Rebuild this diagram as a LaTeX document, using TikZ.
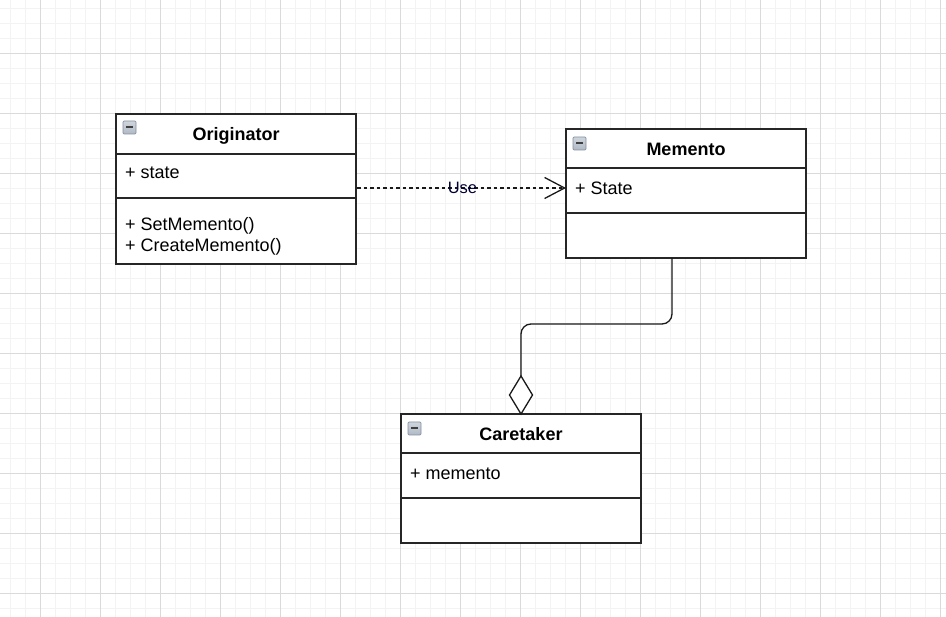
\documentclass[tikz,border=0pt]{standalone}
\usepackage{fontspec}
\setmainfont{Liberation Sans}
\usetikzlibrary{arrows.meta}
\definecolor{gridmajor}{HTML}{DADADA}
\definecolor{gridminor}{HTML}{F3F3F3}
\definecolor{iconfill}{HTML}{B0B9C5}
\definecolor{iconedge}{HTML}{8390A0}
\begin{document}
\begin{tikzpicture}[x=1pt,y=-1pt,
  umlbox/.style={draw=black!85,line width=1.6pt,fill=white,outer sep=0pt,inner sep=0pt,anchor=north west,minimum width=240pt},
  sepline/.style={draw=black!85,line width=1.6pt},
  titletext/.style={font=\fontsize{18}{20}\selectfont\bfseries,anchor=base,inner sep=0pt},
  attrtext/.style={font=\fontsize{18}{20}\selectfont,anchor=base west,inner sep=0pt},
  conn/.style={draw=black!90,line width=1.3pt}]
\useasboundingbox (0,0) rectangle (946,617);
\fill[white] (0,0) rectangle (946,617);
% grid
\foreach \x in {10,25,...,946} \draw[gridminor,line width=0.9pt] (\x,0) -- (\x,617);
\foreach \y in {8,23,...,617} \draw[gridminor,line width=0.9pt] (0,\y) -- (946,\y);
\foreach \x in {40,100,...,946} \draw[gridmajor,line width=0.9pt] (\x,0) -- (\x,617);
\foreach \y in {53,113,...,617} \draw[gridmajor,line width=0.9pt] (0,\y) -- (946,\y);

% collapse icon
\newcommand{\collapseicon}[2]{%
  \shade[top color=iconfill!60,bottom color=iconfill!100!black,draw=iconedge,line width=0.7pt,rounded corners=1.2pt] (#1,#2) rectangle ++(13,13);
  \draw[black!75,line width=2pt] (#1+3,#2+6.5) -- ++(7,0);}

% Originator
\node[umlbox,minimum height=150pt] (orig) at (116,114) {};
\draw[sepline] (116,154) -- (356,154);
\draw[sepline] (116,198) -- (356,198);
\collapseicon{123}{121}
\node[titletext] (origt) at (236,141) {Originator};
\node[attrtext] (origa) at (125,179) {+ state};
\node[attrtext] (origm1) at (125,231) {+ SetMemento()};
\node[attrtext] (origm2) at (125,251.5) {+ CreateMemento()};

% Memento
\node[umlbox,minimum height=129pt] (mem) at (566,129) {};
\draw[sepline] (566,168) -- (806,168);
\draw[sepline] (566,213) -- (806,213);
\collapseicon{573}{137}
\node[titletext] (memt) at (686,155.5) {Memento};
\node[attrtext] (mema) at (575,195) {+ State};

% Caretaker
\node[umlbox,minimum height=129pt] (care) at (401,414) {};
\draw[sepline] (401,453) -- (641,453);
\draw[sepline] (401,498) -- (641,498);
\collapseicon{408}{422}
\node[titletext] (caret) at (521,440.5) {Caretaker};
\node[attrtext] (carea) at (410,479.5) {+ memento};

% Use dependency
\coordinate (usestart) at (357,188);
\coordinate (useend) at (566,188);
\draw[conn,line width=1.1pt,dash pattern=on 3.5pt off 3pt,-{Straight Barb[length=20pt,width=21pt,line width=1.3pt]}] (usestart) -- (useend);
\node[font=\fontsize{16.5}{18}\selectfont,text=black!80!blue,inner sep=0pt,anchor=base] (uselabel) at (462.5,193.5) {Use};

% Aggregation
\coordinate (memb) at (672,258);
\coordinate (diatop) at (521,376);
\draw[conn,rounded corners=10pt] (memb) -- (672,324) -- (521,324) -- (diatop);
\draw[conn,fill=white,line join=miter] (diatop) -- (532.5,395) -- (521,414) -- (509.5,395) -- cycle;
\end{tikzpicture}
\end{document}
